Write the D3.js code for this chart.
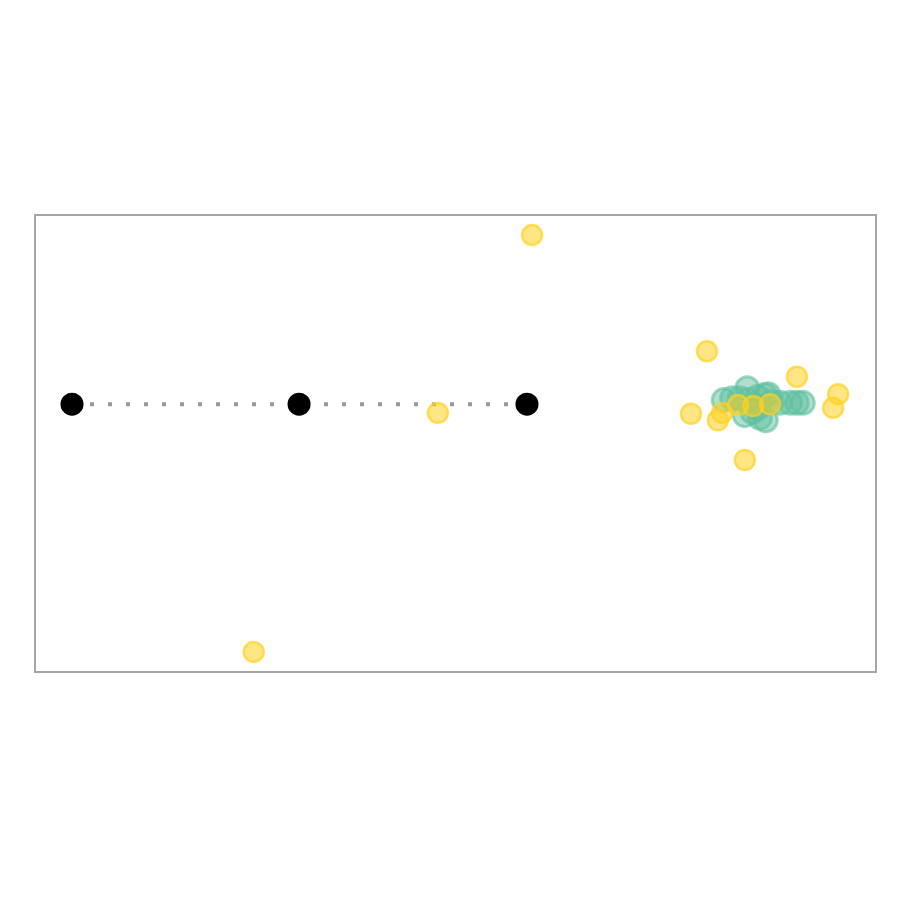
<!DOCTYPE html>
<html><head><meta charset="utf-8">
<script src="https://cdn.jsdelivr.net/npm/d3@7"></script>
<style>html,body{margin:0;padding:0;background:#fff;}</style>
</head><body>
<svg id="chart" width="900" height="900"></svg>
<script>
// reference points (black)
const refX = [0.44, 3.14, 5.85];
const refY = [5.86, 5.86, 5.86];
// green group
const greenX = [8.19, 8.29, 8.38, 8.48, 8.59, 8.68, 8.76, 8.86, 8.53, 8.62, 8.69, 8.44, 8.60, 8.98, 9.06, 9.13, 8.47, 8.72];
const greenY = [5.95, 5.99, 5.99, 5.95, 6.02, 6.06, 5.91, 5.89, 5.69, 5.56, 5.51, 5.62, 5.78, 5.89, 5.89, 5.89, 6.21, 6.08];
// yellow group
const yellowX = [5.91, 7.99, 9.06, 9.55, 9.49, 7.80, 8.12, 8.17, 8.36, 8.54, 8.74, 8.44, 4.79, 2.60];
const yellowY = [9.56, 7.02, 6.46, 6.08, 5.78, 5.65, 5.51, 5.67, 5.84, 5.82, 5.86, 4.64, 5.67, 0.44];

const svg = d3.select("#chart");
const x = d3.scaleLinear().domain([0, 10]).range([35, 876]);
const y = d3.scaleLinear().domain([0, 10]).range([672, 215]);

svg.append("rect").attr("x", x(0)).attr("y", y(10))
  .attr("width", x(10) - x(0)).attr("height", y(0) - y(10))
  .attr("fill", "none").attr("stroke", "#a6a6a6").attr("stroke-width", 2);

const line = d3.line().x(d => x(d[0])).y(d => y(d[1]));
svg.append("path").datum(refX.map((v, i) => [v, refY[i]]))
  .attr("d", line).attr("fill", "none").attr("stroke", "#999")
  .attr("stroke-width", 4).attr("stroke-dasharray", "4,14");

svg.append("g").selectAll("circle").data(refX.map((v, i) => [v, refY[i]]))
  .join("circle").attr("cx", d => x(d[0])).attr("cy", d => y(d[1]))
  .attr("r", 11.5).attr("fill", "#000");

svg.append("g").selectAll("circle").data(greenX.map((v, i) => [v, greenY[i]]))
  .join("circle").attr("cx", d => x(d[0])).attr("cy", d => y(d[1]))
  .attr("r", 11.5).attr("fill", "#5fbf9f").attr("fill-opacity", 0.5)
  .attr("stroke", "#5fbf9f").attr("stroke-opacity", 0.6).attr("stroke-width", 3);

svg.append("g").selectAll("circle").data(yellowX.map((v, i) => [v, yellowY[i]]))
  .join("circle").attr("cx", d => x(d[0])).attr("cy", d => y(d[1]))
  .attr("r", 10).attr("fill", "#ffd21f").attr("fill-opacity", 0.55)
  .attr("stroke", "#ffd21f").attr("stroke-opacity", 0.7).attr("stroke-width", 2.5);
</script>
</body></html>
